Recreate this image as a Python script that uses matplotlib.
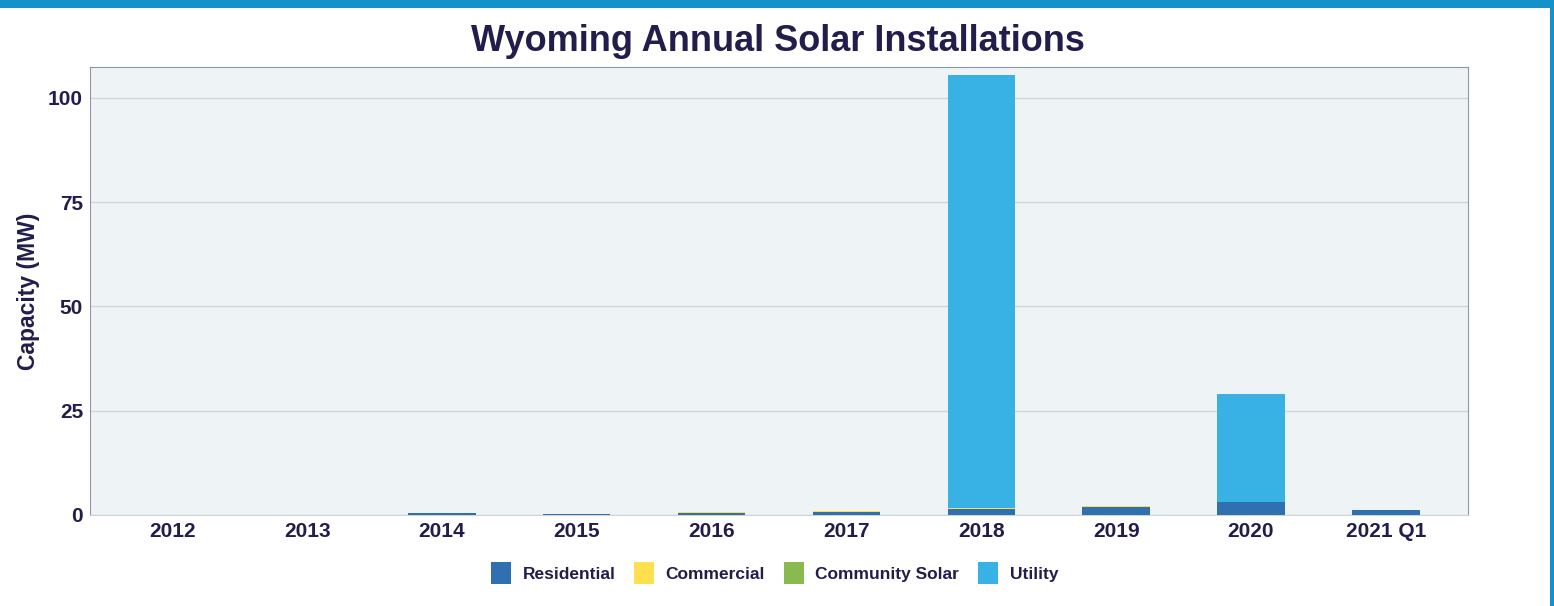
import matplotlib
matplotlib.use("Agg")
import matplotlib.pyplot as plt
from matplotlib.patches import Rectangle, Patch
import numpy as np

plt.rcParams['font.family'] = ['Liberation Sans', 'DejaVu Sans']

categories = ["2012", "2013", "2014", "2015", "2016", "2017", "2018", "2019", "2020", "2021 Q1"]
residential = [0.0, 0.0, 0.4, 0.2, 0.5, 0.8, 1.5, 1.9, 3.0, 1.1]
commercial = [0.0, 0.0, 0.05, 0.15, 0.1, 0.15, 0.1, 0.35, 0.05, 0.1]
community = [0.0, 0.0, 0.0, 0.0, 0.15, 0.0, 0.0, 0.0, 0.0, 0.0]
utility = [0.0, 0.0, 0.0, 0.0, 0.0, 0.0, 104.0, 0.0, 26.0, 0.0]
series_names = ["Residential", "Commercial", "Community Solar", "Utility"]
colors = ["#2e70b0", "#ffdf4f", "#8ab94f", "#38b2e4"]
yticks = [0, 25, 50, 75, 100]

navy = "#221d4b"
fig = plt.figure(figsize=(15.54, 6.06), dpi=100)
ax = fig.add_axes([0.0579, 0.1502, 0.8868, 0.7392])
ax.set_facecolor("#eef3f6")

x = np.arange(len(categories))
bottom = np.zeros(len(categories))
for vals, c, n in zip([residential, commercial, community, utility], colors, series_names):
    ax.bar(x, vals, width=0.5, bottom=bottom, color=c, label=n, zorder=3)
    bottom += np.array(vals)

ax.set_xlim(-0.61, 9.61)
ax.set_ylim(0, 107.4)
ax.set_yticks(yticks)
ax.set_xticks(x)
ax.set_xticklabels(categories)
ax.tick_params(axis='both', length=0, labelsize=15, labelcolor=navy)
ax.tick_params(axis='x', pad=5)
ax.tick_params(axis='y', pad=5)
for lab in ax.get_xticklabels() + ax.get_yticklabels():
    lab.set_fontweight('bold')
ax.yaxis.grid(True, color="#cfd6dc", linewidth=1, zorder=0)
ax.set_axisbelow(True)
for s in ['left', 'top', 'right']:
    ax.spines[s].set_color("#8e98a5")
ax.spines['bottom'].set_color("#cfd4d8")
ax.set_ylabel("Capacity (MW)", fontsize=16.5, fontweight='bold', color=navy, labelpad=6)

fig.text(0.5006, 0.932, "Wyoming Annual Solar Installations", ha='center', va='center',
         fontsize=26, fontweight='bold', color=navy)

handles = [Patch(facecolor=c, edgecolor='none') for c in colors]
leg = fig.legend(handles, series_names, loc='center', bbox_to_anchor=(0.4985, 0.054), ncol=4,
                 frameon=False, fontsize=12.5, handlelength=1.15, handleheight=1.6,
                 columnspacing=1.1, handletextpad=0.65)
for t in leg.get_texts():
    t.set_fontweight('bold')
    t.set_color(navy)

# frame bands
fig.patches.append(Rectangle((0, 1 - 8 / 606), 1, 8 / 606, transform=fig.transFigure,
                             facecolor="#1591c9", edgecolor='none'))
fig.patches.append(Rectangle((1 - 4 / 1554, 0), 4 / 1554, 1, transform=fig.transFigure,
                             facecolor="#1591c9", edgecolor='none'))

fig.savefig("out.png", dpi=100)
